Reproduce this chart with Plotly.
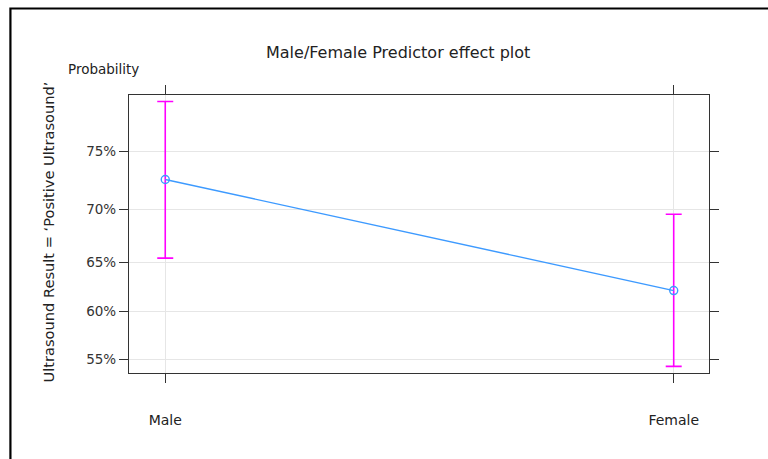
import numpy as np
import plotly.graph_objects as go

# Predictor effect of sex on the probability of a positive ultrasound
categories = ["Male", "Female"]
fit = [0.7264, 0.6216]
lower = [0.654, 0.5421]
upper = [0.788, 0.6955]
tick_probs = [0.55, 0.60, 0.65, 0.70, 0.75]
tick_labels = ["55%", "60%", "65%", "70%", "75%"]


def logit(p):
    p = np.asarray(p, dtype=float)
    return np.log(p / (1 - p))


xpos = [1, 2]
fit_l = logit(fit)
lo_l = logit(lower)
up_l = logit(upper)

W, H = 768, 459
L, R, T, B = 128.7, 58.7, 94.7, 85.7
pw, ph = W - L - R, H - T - B

FONT = "DejaVu Sans"
magenta = "#FF00FF"
blue = "#3D9AFF"

fig = go.Figure()

# confidence band as error bars
fig.add_trace(go.Scatter(
    x=xpos, y=fit_l, mode="markers",
    marker=dict(size=1, color="rgba(0,0,0,0)"),
    error_y=dict(type="data", symmetric=False,
                 array=(up_l - fit_l), arrayminus=(fit_l - lo_l),
                 color=magenta, thickness=1.6, width=8),
    hoverinfo="skip", showlegend=False,
))

# fitted effect line
fig.add_trace(go.Scatter(
    x=xpos, y=fit_l, mode="lines+markers",
    line=dict(color=blue, width=1.4),
    marker=dict(symbol="circle-open", size=8, color=blue,
                line=dict(width=1.4, color=blue)),
    showlegend=False,
))

axis_color = "#333333"
fig.update_xaxes(
    range=[0.9287, 2.0694],
    tickvals=xpos, ticktext=categories,
    ticks="outside", ticklen=9, tickcolor=axis_color, tickwidth=1.2,
    showline=True, linecolor=axis_color, linewidth=1.3, mirror="ticks",
    showgrid=True, gridcolor="#E6E6E6", gridwidth=1,
    zeroline=False,
    ticklabelstandoff=25,
    tickfont=dict(family=FONT, size=14, color="#222222"),
)
fig.update_yaxes(
    range=[float(logit(0.5350)), float(logit(0.7927))],
    tickvals=logit(tick_probs), ticktext=tick_labels,
    ticks="outside", ticklen=9, tickcolor=axis_color, tickwidth=1.2,
    showline=True, linecolor=axis_color, linewidth=1.3, mirror="ticks",
    showgrid=True, gridcolor="#E6E6E6", gridwidth=1,
    zeroline=False,
    tickfont=dict(family=FONT, size=13.5, color="#333333"),
)

# outer frame around the figure (runs off the right and bottom edges)
x0 = (10 - L) / pw
y_top = (H - 8 - B) / ph
fig.add_shape(type="path", xref="paper", yref="paper",
              path=f"M {x0} {-B / ph - 0.1} L {x0} {y_top} L {(W - L) / pw + 0.1} {y_top}",
              line=dict(color="black", width=2.2))

fig.add_annotation(text="Male/Female Predictor effect plot",
                   xref="paper", yref="paper",
                   x=(398 - L) / pw, y=(H - 52 - B) / ph,
                   showarrow=False, xanchor="center", yanchor="middle",
                   font=dict(family=FONT, size=16, color="#222222"))
fig.add_annotation(text="Probability",
                   xref="paper", yref="paper",
                   x=(66 - L) / pw, y=(H - 69 - B) / ph,
                   showarrow=False, xanchor="left", yanchor="middle",
                   font=dict(family=FONT, size=13.5, color="#222222"))
fig.add_annotation(text="Ultrasound Result = \u2018Positive Ultrasound\u2019",
                   xref="paper", yref="paper",
                   x=(48 - L) / pw, y=(H - 232 - B) / ph,
                   showarrow=False, textangle=-90,
                   xanchor="center", yanchor="middle",
                   font=dict(family=FONT, size=14.6, color="#222222"))

fig.update_layout(
    width=W, height=H,
    margin=dict(l=L, r=R, t=T, b=B, autoexpand=False),
    plot_bgcolor="white", paper_bgcolor="white",
)

fig.write_html("out.html")
